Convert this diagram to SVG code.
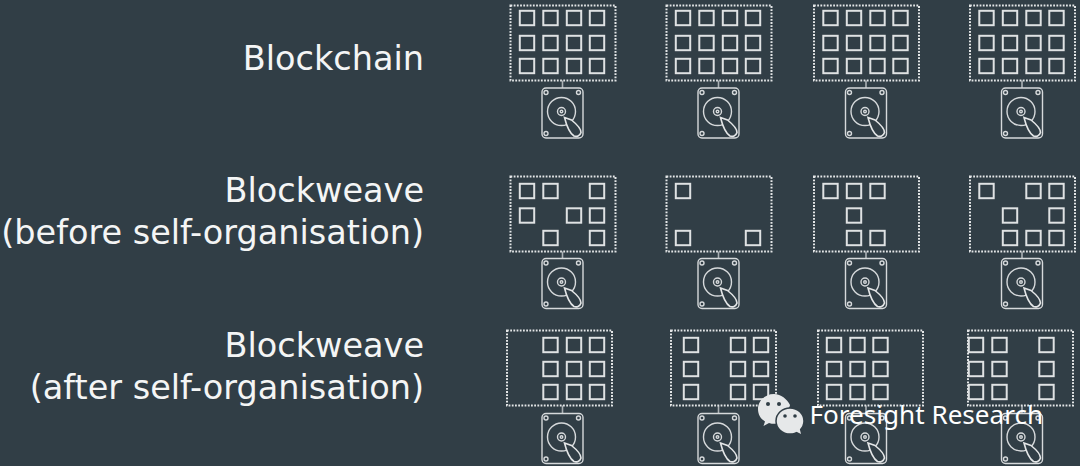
<svg xmlns="http://www.w3.org/2000/svg" xmlns:xlink="http://www.w3.org/1999/xlink" width="1080" height="466" viewBox="0 0 1080 466">
<style>
.bg{fill:#313e46}
.lbl{font-family:"DejaVu Sans",sans-serif;font-size:33.5px;fill:#f4f5f5;text-anchor:end}
.frame{fill:none;stroke:#e4e6e7;stroke-width:2;stroke-dasharray:1.8 1.4}
.sq{fill:none;stroke:#dfe2e3;stroke-width:2}
.d{fill:none;stroke:#d6d9db;stroke-width:1.4}
.wire{stroke:#aab0b4;stroke-width:1.6;fill:none}
.wm{font-family:"Noto Sans","Open Sans",sans-serif;font-size:26.1px;fill:#fff}
</style>
<defs>
<rect id="s" class="sq" x="0.8" y="0.8" width="14.4" height="14.4"/>
<g id="drive">
<rect class="d" x="0.5" y="0.5" width="41" height="50" rx="4"/>
<circle class="d" cx="4.500" cy="5" r="2"/><circle class="d" cx="37" cy="5" r="2"/>
<circle class="d" cx="4.500" cy="46" r="2"/>
<circle class="d" cx="20" cy="24" r="14"/>
<circle class="d" cx="20" cy="24" r="4"/><circle class="d" cx="20" cy="24" r="1.300"/>
<path d="M23 30L30 32.500C35 36.500 39.500 41 39.500 45C38.500 48.500 35 49.500 32.500 48.500C28 45.500 25 38 23 30Z" fill="#313e46" stroke="#e4e6e7" stroke-width="1.600"/>
</g>
</defs>
<rect class="bg" width="1080" height="466"/>
<g id="labels">
<text class="lbl" x="424" y="70">Blockchain</text>
<text class="lbl" x="424" y="202">Blockweave</text>
<text class="lbl" x="424" y="244">(before self-organisation)</text>
<text class="lbl" x="424" y="357">Blockweave</text>
<text class="lbl" x="424" y="399">(after self-organisation)</text>
</g>
<g id="connectors">
<path class="wire" d="M562.500 80.500V88M718.500 80.500V88M866 80.500V88M1022 80.500V88"/>
<path class="wire" d="M562.500 251.500V258M718.500 251.500V258M866 251.500V258M1022 251.500V258"/>
<path class="wire" d="M562.500 405.500V413M718.500 405.500V413M866 405.500V413M1022 405.500V413"/>
</g>
<g id="n-r1c1"><rect class="frame" x="510.500" y="5.500" width="105" height="75"/><use href="#drive" x="541.500" y="87.500"/>
<use href="#s" x="519" y="10"/><use href="#s" x="542.500" y="10"/><use href="#s" x="566" y="10"/><use href="#s" x="589" y="10"/>
<use href="#s" x="519" y="35"/><use href="#s" x="542.500" y="35"/><use href="#s" x="566" y="35"/><use href="#s" x="589" y="35"/>
<use href="#s" x="519" y="58"/><use href="#s" x="542.500" y="58"/><use href="#s" x="566" y="58"/><use href="#s" x="589" y="58"/></g>
<g id="n-r1c2"><rect class="frame" x="666.500" y="5.500" width="105" height="75"/><use href="#drive" x="697.500" y="87.500"/>
<use href="#s" x="675" y="10"/><use href="#s" x="698.500" y="10"/><use href="#s" x="722" y="10"/><use href="#s" x="745" y="10"/>
<use href="#s" x="675" y="35"/><use href="#s" x="698.500" y="35"/><use href="#s" x="722" y="35"/><use href="#s" x="745" y="35"/>
<use href="#s" x="675" y="58"/><use href="#s" x="698.500" y="58"/><use href="#s" x="722" y="58"/><use href="#s" x="745" y="58"/></g>
<g id="n-r1c3"><rect class="frame" x="814" y="5.500" width="105" height="75"/><use href="#drive" x="845" y="87.500"/>
<use href="#s" x="822.500" y="10"/><use href="#s" x="846" y="10"/><use href="#s" x="869.500" y="10"/><use href="#s" x="892.500" y="10"/>
<use href="#s" x="822.500" y="35"/><use href="#s" x="846" y="35"/><use href="#s" x="869.500" y="35"/><use href="#s" x="892.500" y="35"/>
<use href="#s" x="822.500" y="58"/><use href="#s" x="846" y="58"/><use href="#s" x="869.500" y="58"/><use href="#s" x="892.500" y="58"/></g>
<g id="n-r1c4"><rect class="frame" x="970" y="5.500" width="105" height="75"/><use href="#drive" x="1001" y="87.500"/>
<use href="#s" x="978.500" y="10"/><use href="#s" x="1002" y="10"/><use href="#s" x="1025.500" y="10"/><use href="#s" x="1048.500" y="10"/>
<use href="#s" x="978.500" y="35"/><use href="#s" x="1002" y="35"/><use href="#s" x="1025.500" y="35"/><use href="#s" x="1048.500" y="35"/>
<use href="#s" x="978.500" y="58"/><use href="#s" x="1002" y="58"/><use href="#s" x="1025.500" y="58"/><use href="#s" x="1048.500" y="58"/></g>
<g id="n-r2c1"><rect class="frame" x="510.500" y="176.500" width="105" height="75"/><use href="#drive" x="541.500" y="258"/>
<use href="#s" x="519" y="183"/><use href="#s" x="542.500" y="183"/><use href="#s" x="589" y="183"/>
<use href="#s" x="519" y="207.500"/><use href="#s" x="566" y="207.500"/><use href="#s" x="589" y="207.500"/>
<use href="#s" x="542.500" y="230"/><use href="#s" x="589" y="230"/></g>
<g id="n-r2c2"><rect class="frame" x="666.500" y="176.500" width="105" height="75"/><use href="#drive" x="697.500" y="258"/>
<use href="#s" x="675" y="183"/><use href="#s" x="675" y="230"/><use href="#s" x="745" y="230"/></g>
<g id="n-r2c3"><rect class="frame" x="814" y="176.500" width="105" height="75"/><use href="#drive" x="845" y="258"/>
<use href="#s" x="822.500" y="183"/><use href="#s" x="846" y="183"/><use href="#s" x="869.500" y="183"/>
<use href="#s" x="846" y="207.500"/>
<use href="#s" x="846" y="230"/><use href="#s" x="869.500" y="230"/></g>
<g id="n-r2c4"><rect class="frame" x="970" y="176.500" width="105" height="75"/><use href="#drive" x="1001" y="258"/>
<use href="#s" x="978.500" y="183"/><use href="#s" x="1025.500" y="183"/><use href="#s" x="1048.500" y="183"/>
<use href="#s" x="1002" y="207.500"/><use href="#s" x="1048.500" y="207.500"/>
<use href="#s" x="1002" y="230"/><use href="#s" x="1025.500" y="230"/><use href="#s" x="1048.500" y="230"/></g>
<g id="n-r3c1"><rect class="frame" x="507" y="330.500" width="105" height="75"/><use href="#drive" x="541.500" y="413"/>
<use href="#s" x="542.500" y="337"/><use href="#s" x="566" y="337"/><use href="#s" x="589" y="337"/>
<use href="#s" x="542.500" y="361"/><use href="#s" x="566" y="361"/><use href="#s" x="589" y="361"/>
<use href="#s" x="542.500" y="384"/><use href="#s" x="566" y="384"/><use href="#s" x="589" y="384"/></g>
<g id="n-r3c2"><rect class="frame" x="671" y="330.500" width="105" height="75"/><use href="#drive" x="697.500" y="413"/>
<use href="#s" x="683" y="337"/><use href="#s" x="730" y="337"/><use href="#s" x="753" y="337"/>
<use href="#s" x="683" y="361"/><use href="#s" x="730" y="361"/><use href="#s" x="753" y="361"/>
<use href="#s" x="683" y="384"/><use href="#s" x="730" y="384"/><use href="#s" x="753" y="384"/></g>
<g id="n-r3c3"><rect class="frame" x="818" y="330.500" width="105" height="75"/><use href="#drive" x="845" y="413"/>
<use href="#s" x="826" y="337"/><use href="#s" x="849.500" y="337"/><use href="#s" x="872.500" y="337"/>
<use href="#s" x="826" y="361"/><use href="#s" x="849.500" y="361"/><use href="#s" x="872.500" y="361"/>
<use href="#s" x="826" y="384"/><use href="#s" x="849.500" y="384"/><use href="#s" x="872.500" y="384"/></g>
<g id="n-r3c4"><rect class="frame" x="968" y="330.500" width="105" height="75"/><use href="#drive" x="1001" y="413"/>
<use href="#s" x="968" y="337"/><use href="#s" x="991.500" y="337"/><use href="#s" x="1038.500" y="337"/>
<use href="#s" x="968" y="361"/><use href="#s" x="991.500" y="361"/><use href="#s" x="1038.500" y="361"/>
<use href="#s" x="968" y="384"/><use href="#s" x="991.500" y="384"/><use href="#s" x="1038.500" y="384"/></g>
<g id="watermark">
<path d="M774 394C765 394 758 401 758 409C758 415 761 419 765 421.500L763.500 426L769 423C772 424 775 424 778 423.500C784 412 790 408 790 405C787 399 781 394 774 394Z" fill="#e6e8e9"/>
<ellipse cx="790" cy="421" rx="14" ry="13" fill="#e6e8e9" stroke="#313e46" stroke-width="1.500"/>
<path d="M795 431L801 434L799.500 428Z" fill="#e6e8e9"/>
<circle cx="768" cy="404" r="2" fill="#313e46"/><circle cx="779" cy="404" r="2" fill="#313e46"/>
<circle cx="785" cy="416" r="1.800" fill="#313e46"/><circle cx="795" cy="416" r="1.800" fill="#313e46"/>
<text class="wm" x="809.500" y="424">Foresight Research</text>
</g>
</svg>
